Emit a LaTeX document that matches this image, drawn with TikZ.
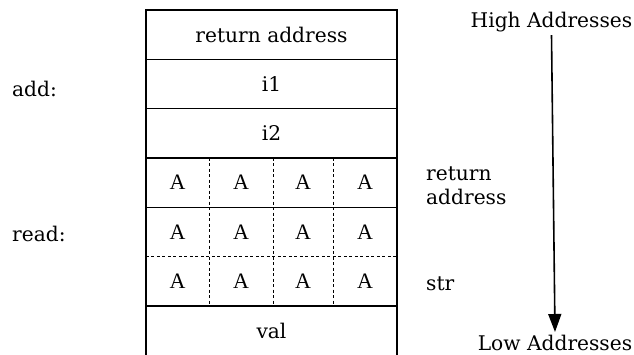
\documentclass[tikz,border=0pt]{standalone}
\usepackage{fontspec}
\setmainfont{DejaVu Serif}
\newfontfamily\cellfont{Liberation Serif}
\usetikzlibrary{arrows.meta}

\begin{document}
\begin{tikzpicture}[x=1pt,y=-1pt,
  frame/.style={line width=1.5pt},
  slot/.style={draw, frame, minimum width=251pt, minimum height=49.3pt,
    inner sep=0pt, font=\fontsize{20.2}{24}\selectfont},
  cell/.style={minimum height=49.3pt, inner sep=0pt,
    font=\cellfont\fontsize{22}{24}\selectfont},
  grid/.style={line width=1pt, dash pattern=on 3pt off 2.5pt},
  lbl/.style={font=\fontsize{20.2}{24.5}\selectfont, inner sep=0pt, anchor=west, align=left},
  addr/.style={font=\fontsize{20.2}{24}\selectfont, inner sep=3pt}]
\useasboundingbox (0,0) rectangle (634,354);

% fixed stack slots
\node[slot] (ret) at (271.5,34.65) {return address};
\node[slot] (i1)  at (271.5,83.95) {i1};
\node[slot] (i2)  at (271.5,133.25) {i2};
\node[slot, minimum height=51pt] (val) at (271.5,331.3) {val};

% buffer of 12 bytes, 3 rows x 4 columns
\foreach \r/\y in {1/182.55, 2/231.85, 3/281.15} {
  \foreach \c/\xa/\xb in {1/146/209, 2/209/273, 3/273/333, 4/333/397} {
    \node[cell, minimum width=\xb pt-\xa pt] (c\r\c) at ({(\xa+\xb)/2},\y) {A};
  }
}
\draw[frame] (c11.north west) rectangle (c34.south east);
\draw[frame] (c11.south west) -- (c14.south east);
\draw[grid] (c21.south west) -- (c24.south east);
\foreach \c in {1,2,3} {
  \draw[grid] (c1\c.north east) -- (c3\c.south east);
}

% frame labels on the left
\node[lbl] (add)  at (12,89)  {add:};
\node[lbl] (read) at (12,234) {read:};

% slot labels on the right
\node[lbl] (retlbl) at (426,186) {return\\address};
\node[lbl] (str)    at (426,284) {str};

% growth direction
\node[addr] (high) at (551.5,22)  {High Addresses};
\node[addr] (low)  at (555,343)   {Low Addresses};
\draw[line width=1.6pt, -{Triangle[length=18pt, width=13pt]}] (high.south) -- (low.north);
\end{tikzpicture}
\end{document}
